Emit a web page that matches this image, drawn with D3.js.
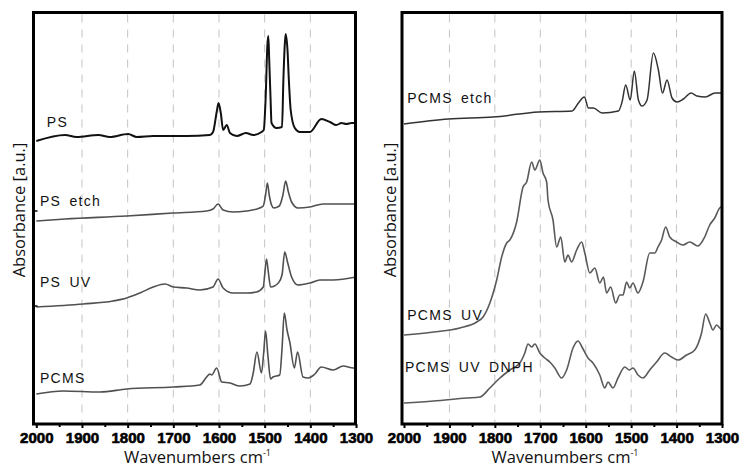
<!DOCTYPE html>
<html><head><meta charset="utf-8">
<script src="https://cdn.jsdelivr.net/npm/d3@7"></script>
<style>
html,body{margin:0;padding:0;background:#fff;}
svg{display:block;}
.slabel{font-family:Arial, "Liberation Sans", sans-serif; font-size:14px; letter-spacing:1.3px; word-spacing:3px; fill:#111;}
.atitle{font-family:"Open Sans", "Liberation Sans", sans-serif; font-size:16.5px; fill:#111;}
</style></head>
<body>
<svg id="chart" width="744" height="469"></svg>
<script>
// ---- data: [wavenumber (cm^-1), absorbance (a.u., offset-stacked)] ----
const xTicks = [2000,1900,1800,1700,1600,1500,1400,1300];
const xMinorTicks = [1950,1850,1750,1650,1550,1450,1350];
const gridLines = [1900,1800,1700,1600,1500,1400];

const PS = [[2000,283],[1937,289],[1912,287],[1864,289],[1839,287],[1799,290],[1780,287],[1744,288],[1715,288],[1671,288],[1620,289],[1613,292],[1605,312],[1601,321],[1596,311],[1591,294],[1583,299],[1576,291],[1561,288],[1541,291],[1525,289],[1507,292],[1502,294],[1498,324],[1494,379],[1492,388],[1490,364],[1487,324],[1485,301],[1474,296],[1462,297],[1459,344],[1456,379],[1454,390],[1450,374],[1447,344],[1443,314],[1434,296],[1423,292],[1401,292],[1376,305],[1357,302],[1343,299],[1332,301],[1321,300],[1310,301],[1300,301]];
const PS_etch = [[2000,203],[1937,205],[1802,208],[1701,211],[1627,213],[1613,215],[1602,220],[1591,214],[1569,212],[1540,213],[1511,216],[1503,218],[1498,229],[1494,241],[1490,229],[1485,219],[1480,216],[1468,218],[1460,229],[1454,243],[1448,232],[1441,222],[1427,216],[1401,217],[1372,220],[1335,220],[1300,220]];
const PS_UV = [[2000,117],[1897,120],[1832,123],[1802,126],[1773,131],[1744,137],[1718,140],[1700,137],[1671,136],[1642,134],[1613,137],[1602,145],[1591,136],[1569,131],[1540,131],[1518,132],[1503,137],[1500,149],[1496,165],[1492,152],[1487,137],[1470,141],[1462,149],[1456,172],[1450,162],[1441,147],[1427,139],[1401,141],[1379,144],[1350,144],[1300,147]];
const PCMS = [[2000,30],[1941,33],[1861,32],[1802,35],[1700,37],[1642,39],[1627,47],[1620,50],[1616,49],[1605,56],[1594,42],[1576,41],[1554,38],[1532,40],[1525,51],[1517,72],[1507,51],[1502,72],[1498,93],[1493,69],[1487,45],[1482,47],[1467,49],[1462,75],[1457,111],[1451,94],[1445,82],[1435,56],[1428,72],[1416,47],[1405,46],[1390,50],[1376,57],[1350,54],[1328,58],[1306,56],[1300,56]];

const PCMS_etch = [[2000,300],[1902,305],[1804,307],[1704,312],[1630,313],[1616,321],[1603,327],[1594,316],[1583,316],[1564,311],[1528,313],[1520,322],[1512,339],[1502,324],[1493,353],[1484,324],[1476,318],[1465,324],[1451,371],[1440,354],[1431,331],[1421,344],[1410,326],[1399,322],[1385,325],[1368,331],[1355,328],[1337,327],[1315,331],[1302,331]];
const PCMS_UV = [[2000,89],[1935,92],[1877,96],[1840,102],[1826,107],[1811,121],[1796,144],[1785,167],[1774,181],[1767,184],[1752,202],[1738,237],[1730,242],[1719,262],[1712,254],[1701,264],[1694,251],[1686,242],[1683,224],[1672,204],[1664,177],[1655,187],[1646,162],[1639,169],[1631,162],[1620,174],[1609,182],[1602,171],[1591,151],[1580,156],[1569,141],[1561,147],[1554,131],[1545,137],[1534,121],[1525,129],[1518,129],[1510,142],[1503,136],[1496,141],[1485,131],[1474,142],[1459,171],[1448,171],[1441,177],[1433,184],[1424,197],[1415,187],[1400,182],[1386,179],[1371,182],[1353,178],[1338,187],[1327,199],[1316,206],[1305,216],[1302,217]];
const PCMS_UV_DNPH = [[2000,21],[1935,23],[1862,26],[1833,27],[1811,36],[1789,46],[1767,54],[1745,61],[1734,71],[1727,80],[1719,77],[1712,80],[1701,71],[1690,66],[1679,62],[1668,56],[1653,46],[1642,54],[1628,76],[1617,83],[1607,76],[1595,66],[1584,61],[1569,49],[1558,36],[1551,42],[1540,36],[1529,46],[1514,57],[1504,54],[1496,56],[1485,49],[1474,46],[1459,54],[1444,62],[1426,71],[1411,67],[1397,64],[1378,69],[1360,74],[1345,91],[1336,110],[1327,101],[1320,94],[1312,99],[1305,96],[1300,94]];

const leftSeries = [
  {name:"PS", data:PS, color:"#111", width:2.0, label:[1977,297]},
  {name:"PS etch", data:PS_etch, color:"#505050", width:1.6, label:[1992,218]},
  {name:"PS UV", data:PS_UV, color:"#505050", width:1.6, label:[1992,137]},
  {name:"PCMS", data:PCMS, color:"#505050", width:1.6, label:[1992,41]}
];
const rightSeries = [
  {name:"PCMS etch", data:PCMS_etch, color:"#333", width:1.5, label:[1993,321]},
  {name:"PCMS UV", data:PCMS_UV, color:"#5a5a5a", width:1.6, label:[1993,104]},
  {name:"PCMS UV DNPH", data:PCMS_UV_DNPH, color:"#5a5a5a", width:1.6, label:[1998,52]}
];

const svg = d3.select("#chart");
const TOP = 12.5, BOTTOM = 424;
const y = d3.scaleLinear().domain([0,411.5]).range([BOTTOM, TOP]);

function panel(series, frameL, frameR, x0, x1, yTitleX, yTicks){
  const x = d3.scaleLinear().domain([2000,1300]).range([x0, x1]);
  const g = svg.append("g");
  g.selectAll("line.grid").data(gridLines).enter().append("line")
    .attr("x1", d=>x(d)).attr("x2", d=>x(d))
    .attr("y1", TOP+2).attr("y2", BOTTOM-2)
    .attr("stroke", "#c4c4c4").attr("stroke-width", 1)
    .attr("stroke-dasharray", "8,7");
  const line = d3.line().x(d=>x(d[0])).y(d=>y(d[1])).curve(d3.curveMonotoneX);
  series.forEach(s=>{
    g.append("path").datum(s.data).attr("d", line)
      .attr("fill","none").attr("stroke", s.color)
      .attr("stroke-width", s.width).attr("stroke-linejoin","round");
  });
  series.forEach(s=>{
    g.append("text").attr("class","slabel").attr("x", x(s.label[0])).attr("y", y(s.label[1])).text(s.name);
  });
  const ax = d3.axisBottom(x).tickValues(xTicks).tickSizeInner(4).tickSizeOuter(0).tickPadding(4).tickFormat(d3.format("d"));
  const axg = g.append("g").attr("transform", `translate(0,${BOTTOM})`).call(ax);
  axg.select(".domain").remove();
  axg.selectAll(".tick line").attr("stroke","#000").attr("stroke-width",2);
  axg.selectAll(".tick text")
    .attr("fill","#000")
    .style("font-family","'Liberation Sans', Arial, sans-serif")
    .style("font-weight","700")
    .style("font-size","15px")
    .style("stroke","#000")
    .style("stroke-width","0.6px");
  const mx = d3.axisBottom(x).tickValues(xMinorTicks).tickSizeInner(3).tickSizeOuter(0).tickFormat("");
  const mg = g.append("g").attr("transform", `translate(0,${BOTTOM})`).call(mx);
  mg.select(".domain").remove();
  mg.selectAll(".tick line").attr("stroke","#000").attr("stroke-width",2);
  g.selectAll("line.yt").data(yTicks).enter().append("line")
    .attr("x1", frameL).attr("x2", frameL+4).attr("y1", d=>y(d)).attr("y2", d=>y(d))
    .attr("stroke","#000").attr("stroke-width",1.5);
  g.append("rect").attr("x", frameL).attr("y", TOP).attr("width", frameR-frameL).attr("height", BOTTOM-TOP)
    .attr("fill","none").attr("stroke","#000").attr("stroke-width",3);
  const t = g.append("text").attr("class","atitle").attr("x", (frameL+frameR)/2+3).attr("y", 463)
    .attr("text-anchor","middle");
  t.append("tspan").text("Wavenumbers cm");
  t.append("tspan").attr("dy",-7).style("font-size","9px").text("-1");
  g.append("text").attr("class","atitle").attr("transform", `translate(${yTitleX},210) rotate(-90)`)
    .attr("text-anchor","middle").text("Absorbance [a.u.]");
}

panel(leftSeries, 33.5, 355.5, 36.3, 356, 25, [118,213]);
panel(rightSeries, 402, 722, 404, 722, 396, []);
</script>
</body></html>
